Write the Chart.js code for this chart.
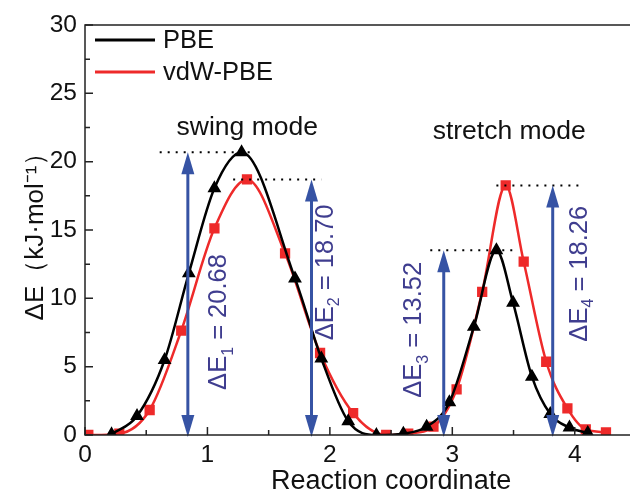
<!DOCTYPE html>
<html><head><meta charset="utf-8">
<script src="https://cdn.jsdelivr.net/npm/chart.js@4"></script>
<style>
html,body{margin:0;padding:0;overflow:hidden;background:#fff;width:630px;height:498px}
#wrap{position:relative;width:710px;height:498px}
</style></head>
<body><div id="wrap"><canvas id="c" width="710" height="498"></canvas></div>
<script>
// ---- data ----
const seriesNames = ['PBE', 'vdW-PBE'];
const pbeX = [0.217, 0.425, 0.650, 0.848, 1.057, 1.279, 1.715, 1.93, 2.15, 2.38, 2.60, 2.79, 2.976, 3.176, 3.36, 3.496, 3.65, 3.80, 3.957, 4.106];
const pbeY = [0.05, 1.39, 5.49, 11.83, 18.05, 20.68, 11.46, 5.6, 1.0, 0.0, 0.1, 0.61, 2.39, 7.92, 13.52, 9.68, 4.27, 1.54, 0.54, 0.15];
const vdwX = [0.027, 0.28, 0.528, 0.786, 1.057, 1.323, 1.634, 1.92, 2.19, 2.46, 2.64, 2.846, 3.035, 3.244, 3.436, 3.583, 3.767, 3.94, 4.09, 4.255];
const vdwY = [0.0, 0.1, 1.83, 7.63, 15.12, 18.70, 13.29, 6.0, 1.6, 0.0, 0.1, 0.61, 3.34, 10.48, 18.26, 12.68, 5.36, 1.95, 0.41, 0.2];
const xTicks = [0, 1, 2, 3, 4, 5];
const yTicks = [0, 5, 10, 15, 20, 25, 30];
// barrier annotations
const barrierNames = ['1', '2', '3', '4'];
const barrierValues = [20.68, 18.70, 13.52, 18.26];
const arrowX = [0.84, 1.85, 2.93, 3.82];
const dotStart = [0.61, 1.21, 2.82, 3.36];
const dotEnd = [1.39, 1.93, 3.50, 4.05];
const labelX = [1.098, 1.967, 2.69, 4.04];
const labelY = [8.27, 11.9, 7.7, 11.8];
const modeNames = ['swing mode', 'stretch mode'];
const modeX = [1.325, 3.465];
const modeY = [22.5, 22.2];

const FONT = "'Liberation Sans', Arial, sans-serif";
const BLUE = '#3653a4';
const TEXTBLUE = '#3f3d8f';

const deco = {
  id: 'deco',
  afterDatasetsDraw(chart) {
    const { ctx, scales: { x, y } } = chart;
    ctx.save();
    // dotted level lines
    ctx.strokeStyle = '#000'; ctx.lineWidth = 2; ctx.setLineDash([2, 6]);
    for (let i = 0; i < barrierValues.length; i++) {
      const py = y.getPixelForValue(barrierValues[i]);
      ctx.beginPath();
      ctx.moveTo(x.getPixelForValue(dotStart[i]), py);
      ctx.lineTo(x.getPixelForValue(dotEnd[i]), py);
      ctx.stroke();
    }
    ctx.setLineDash([]);
    // double arrows
    const hl = 22, hw = 6.5;
    for (let i = 0; i < barrierValues.length; i++) {
      const px = x.getPixelForValue(arrowX[i]);
      const top = y.getPixelForValue(barrierValues[i]);
      const bot = y.getPixelForValue(0) + 2;
      ctx.strokeStyle = BLUE; ctx.fillStyle = BLUE; ctx.lineWidth = 3;
      ctx.beginPath(); ctx.moveTo(px, top + hl - 2); ctx.lineTo(px, bot - hl + 2); ctx.stroke();
      ctx.beginPath(); ctx.moveTo(px, top); ctx.lineTo(px - hw, top + hl); ctx.lineTo(px + hw, top + hl); ctx.closePath(); ctx.fill();
      ctx.beginPath(); ctx.moveTo(px, bot); ctx.lineTo(px - hw, bot - hl); ctx.lineTo(px + hw, bot - hl); ctx.closePath(); ctx.fill();
    }
    // rotated labels
    for (let i = 0; i < barrierValues.length; i++) {
      const cx = x.getPixelForValue(labelX[i]);
      const cy = y.getPixelForValue(labelY[i]);
      ctx.save();
      ctx.translate(cx, cy);
      ctx.rotate(-Math.PI / 2);
      ctx.fillStyle = TEXTBLUE;
      ctx.textBaseline = 'middle'; ctx.textAlign = 'left';
      const big = '25.5px ' + FONT, small = '16px ' + FONT;
      const t1 = '\u0394E', t2 = barrierNames[i], t3 = ' = ' + barrierValues[i].toFixed(2);
      ctx.font = big; const w1 = ctx.measureText(t1).width, w3 = ctx.measureText(t3).width;
      ctx.font = small; const w2 = ctx.measureText(t2).width;
      let sx = -(w1 + w2 + w3) / 2;
      ctx.font = big; ctx.fillText(t1, sx, 0);
      ctx.font = small; ctx.fillText(t2, sx + w1, 9);
      ctx.font = big; ctx.fillText(t3, sx + w1 + w2, 0);
      ctx.restore();
    }
    // mode labels
    ctx.fillStyle = '#111'; ctx.font = '26.5px ' + FONT; ctx.textAlign = 'center'; ctx.textBaseline = 'middle';
    for (let i = 0; i < modeNames.length; i++) {
      ctx.fillText(modeNames[i], x.getPixelForValue(modeX[i]), y.getPixelForValue(modeY[i]));
    }
    ctx.restore();
  },
  afterDraw(chart) {
    const { ctx, chartArea: a, scales: { x, y } } = chart;
    ctx.save();
    ctx.strokeStyle = '#222'; ctx.lineWidth = 1.5;
    ctx.strokeRect(a.left, a.top, a.right - a.left, a.bottom - a.top);
    ctx.beginPath();
    for (let v = 0; v <= 5.001; v += 0.5) {
      const px = x.getPixelForValue(v);
      const len = Math.abs(v - Math.round(v)) < 1e-6 ? 8 : 5;
      ctx.moveTo(px, a.bottom); ctx.lineTo(px, a.bottom - len);
    }
    for (let v = 0; v <= 30.001; v += 2.5) {
      const py = y.getPixelForValue(v);
      const len = Math.abs(v / 5 - Math.round(v / 5)) < 1e-6 ? 8 : 5;
      ctx.moveTo(a.left, py); ctx.lineTo(a.left + len, py);
    }
    ctx.stroke();
    // legend
    const ds = chart.data.datasets;
    const ly = [40, 72];
    ctx.font = '25.5px ' + FONT; ctx.textBaseline = 'middle'; ctx.textAlign = 'left';
    for (let i = 0; i < ds.length; i++) {
      ctx.strokeStyle = ds[i].borderColor; ctx.lineWidth = 3;
      ctx.beginPath(); ctx.moveTo(a.left + 10, ly[i]); ctx.lineTo(a.left + 70, ly[i]); ctx.stroke();
      ctx.fillStyle = '#111';
      ctx.fillText(ds[i].label, a.left + 78, ly[i] + 1);
    }
    ctx.restore();
  }
};

const toPts = (xs, ys) => xs.map((v, i) => ({ x: v, y: ys[i] }));

new Chart(document.getElementById('c'), {
  type: 'line',
  data: {
    datasets: [
      { label: seriesNames[0], data: toPts(pbeX, pbeY), borderColor: '#000', backgroundColor: '#000',
        borderWidth: 2.5, pointStyle: 'triangle', pointRadius: 5.5, cubicInterpolationMode: 'monotone', fill: false },
      { label: seriesNames[1], data: toPts(vdwX, vdwY), borderColor: '#ee2a2a', backgroundColor: '#ee2a2a',
        borderWidth: 2.5, pointStyle: 'rect', pointRadius: 5.5, cubicInterpolationMode: 'monotone', fill: false }
    ]
  },
  options: {
    responsive: false, animation: false, devicePixelRatio: 1,
    layout: { padding: { top: 25, right: 10, left: 0, bottom: 0 } },
    plugins: { legend: { display: false }, tooltip: { enabled: false } },
    scales: {
      x: {
        type: 'linear', min: 0, max: 5,
        afterBuildTicks: s => { s.ticks = xTicks.map(v => ({ value: v })); },
        afterFit: s => { s.height = 63; },
        grid: { display: false, drawTicks: false }, border: { display: false },
        ticks: { color: '#111', font: { family: FONT, size: 24.5 }, padding: 6, maxRotation: 0 },
        title: { display: true, text: 'Reaction coordinate', color: '#111', font: { family: FONT, size: 27 }, padding: { top: 0, bottom: 0 } }
      },
      y: {
        min: 0, max: 30,
        afterBuildTicks: s => { s.ticks = yTicks.map(v => ({ value: v })); },
        afterFit: s => { s.width = 85; },
        grid: { display: false, drawTicks: false }, border: { display: false },
        ticks: { color: '#111', font: { family: FONT, size: 24.5 }, padding: 8 },
        title: { display: true, text: '\u0394E\uFF08kJ\u00B7mol\u207B\u00B9\uFF09', color: '#111', font: { family: FONT, size: 26 }, padding: { top: 20, bottom: 0 } }
      }
    }
  },
  plugins: [deco]
});
</script>
</body></html>
